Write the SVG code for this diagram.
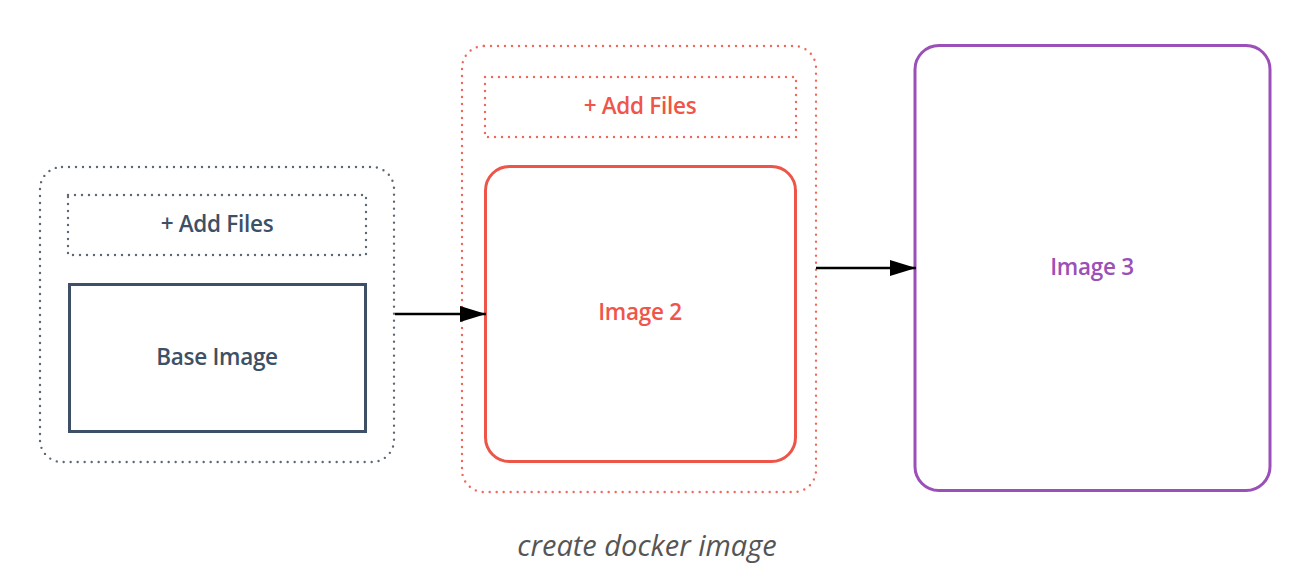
<svg xmlns="http://www.w3.org/2000/svg" width="1306" height="580" viewBox="0 0 1306 580">
<style>
.dot{fill:none;stroke-width:2.4;stroke-dasharray:0 7;stroke-linecap:round}
.gray{stroke:#5d6875}
.red{stroke:#f0675b}
.lbl{font-family:"Open Sans","Noto Sans",sans-serif;font-size:22.5px;font-weight:600;text-anchor:middle;dominant-baseline:central;letter-spacing:-0.3px}
.conn{stroke:#000;stroke-width:2.5;fill:none}
</style>
<defs>
<marker id="ah" markerWidth="26" markerHeight="16" refX="26" refY="8" orient="auto" markerUnits="userSpaceOnUse">
<path d="M0,0 L26,8 L0,16 Z" fill="#000"/>
</marker>
</defs>
<rect width="1306" height="580" fill="#fff"/>
<g id="group-base">
<rect class="dot gray" x="40" y="167" width="354" height="295" rx="22"/>
<g id="addfiles-1">
<rect class="dot gray" x="68" y="195" width="298" height="60"/>
<text class="lbl" x="217" y="223" fill="#3d5066">+ Add Files</text>
</g>
<g id="base-image">
<rect x="69.5" y="284.5" width="296" height="147" fill="#fff" stroke="#3d5066" stroke-width="3"/>
<text class="lbl" x="217" y="356" fill="#3d5066">Base Image</text>
</g>
</g>
<g id="group-image2">
<rect class="dot red" x="462" y="46" width="354" height="446" rx="22"/>
<g id="addfiles-2">
<rect class="dot red" x="485" y="77" width="311" height="60"/>
<text class="lbl" x="640" y="105" fill="#f0554a">+ Add Files</text>
</g>
<g id="image2">
<rect x="485.5" y="166.5" width="310" height="295" rx="24" fill="#fff" stroke="#ec5548" stroke-width="3"/>
<text class="lbl" x="640" y="311" fill="#f0554a">Image 2</text>
</g>
</g>
<g id="image3">
<rect x="915" y="45.5" width="355" height="445" rx="24" fill="#fff" stroke="#9b4fb8" stroke-width="3"/>
<text class="lbl" x="1092" y="266" fill="#9b4fb8">Image 3</text>
</g>
<g id="connectors">
<line class="conn" x1="395" y1="314" x2="486" y2="314" marker-end="url(#ah)"/>
<line class="conn" x1="816" y1="268" x2="916" y2="268" marker-end="url(#ah)"/>
</g>
<text x="647" y="544" font-family="Open Sans, Noto Sans, sans-serif" font-style="italic" font-size="29" fill="#555" text-anchor="middle" dominant-baseline="central">create docker image</text>
</svg>
